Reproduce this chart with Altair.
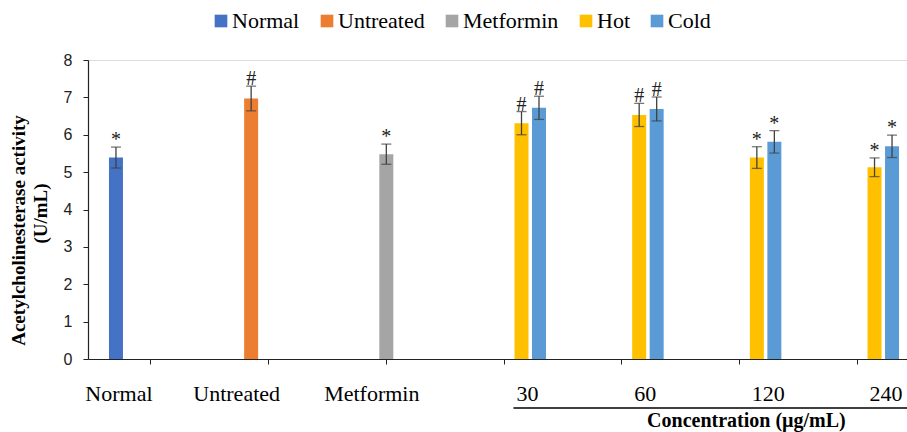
import altair as alt
import pandas as pd

# Categories on the x axis and the treatment series
groups = ["Normal", "Untreated", "Metformin", "30", "60", "120", "240"]
series = ["Normal", "Untreated", "Metformin", "Hot", "Cold"]
colors = ["#4472C4", "#ED7D31", "#A5A5A5", "#FFC000", "#5B9BD5"]

# Acetylcholinesterase activity (U/mL), mean and error per bar
bar_group = ["Normal", "Untreated", "Metformin", "30", "30", "60", "60",
             "120", "120", "240", "240"]
bar_series = ["Normal", "Untreated", "Metformin", "Hot", "Cold", "Hot", "Cold",
              "Hot", "Cold", "Hot", "Cold"]
activity = [5.39, 6.97, 5.48, 6.31, 6.72, 6.53, 6.69, 5.39, 5.81, 5.13, 5.69]
error = [0.28, 0.33, 0.27, 0.31, 0.31, 0.31, 0.32, 0.29, 0.30, 0.25, 0.30]
significance = ["*", "#", "*", "#", "#", "#", "#", "*", "*", "*", "*"]

# Category labels and the bar slot each one sits under
treat_labels = ["Normal", "Untreated", "Metformin"]
treat_anchor = ["Normal", "Normal", "Untreated"]
conc_labels = ["30", "60", "120", "240"]
conc_anchor = ["Hot", "Hot", "Hot", "Hot"]
conc_title = "Concentration (\u00b5g/mL)"
y_title = "Acetylcholinesterase activity"
y_unit = "(U/mL)"

df = pd.DataFrame({
    "group": bar_group,
    "series": bar_series,
    "activity": activity,
    "err": error,
    "sig": significance,
})
df["lo"] = df["activity"] - df["err"]
df["hi"] = df["activity"] + df["err"]

treat_df = pd.DataFrame({"group": treat_labels, "anchor": treat_anchor, "label": treat_labels})
conc_df = pd.DataFrame({"group": conc_labels, "anchor": conc_anchor, "label": conc_labels})
bracket_df = pd.DataFrame({"start": [conc_labels[0]], "end": [conc_labels[-1]]})
title_df = pd.DataFrame({"group": ["120"], "label": [conc_title]})

SERIF = "Liberation Serif"
SANS = "Liberation Sans"
ERR_COLOR = "#404040"

x_scale = alt.Scale(domain=groups, range=[0, 832], paddingInner=0, paddingOuter=0.035)
off_scale = alt.Scale(domain=series, paddingInner=0.2, paddingOuter=0.963)
y_scale = alt.Scale(domain=[0, 8], nice=False)


def gx(field="group", **kw):
    return alt.X(f"{field}:N", scale=x_scale, sort=groups, **kw)


def gof(field="series"):
    return alt.XOffset(f"{field}:N", scale=off_scale, sort=series)


def zero_y():
    return alt.YDatum(0, scale=y_scale, axis=None)


title_style = dict(
    titleFont=SERIF, titleFontSize=19, titleFontWeight="bold", titleColor="black",
    titleAngle=270, titleAlign="center", titleBaseline="bottom",
)

x_enc = gx(axis=alt.Axis(labels=False, title=None, tickSize=5, tickColor="#222",
                         domainColor="#222", domainWidth=1.2, ticks=True, grid=False))
y_enc = alt.Y(
    "activity:Q", scale=y_scale,
    axis=alt.Axis(
        orient="left", values=list(range(9)), tickCount=9, labelOverlap=False,
        grid=False, tickSize=5, tickColor="#222", domainColor="#222", domainWidth=1.2,
        labelFont=SANS, labelFontSize=16, labelColor="#222", labelPadding=11,
        title=y_title, titleX=-60, titleY=170, **title_style,
    ),
)

base = alt.Chart(df)

bars = base.mark_bar().encode(
    x=x_enc,
    xOffset=gof(),
    y=y_enc,
    color=alt.Color(
        "series:N",
        scale=alt.Scale(domain=series, range=colors),
        legend=alt.Legend(
            orient="none", legendX=122, legendY=-50, direction="horizontal",
            title=None, symbolType="square", symbolSize=160, symbolStrokeWidth=0,
            labelFont=SERIF, labelFontSize=22, labelColor="black",
            columnPadding=16, labelOffset=0,
        ),
    ),
)

whiskers = base.mark_rule(color=ERR_COLOR, strokeWidth=1.3).encode(
    x=gx(), xOffset=gof(),
    y=alt.Y("lo:Q", scale=y_scale, axis=None),
    y2="hi:Q",
)

caps_hi = base.mark_tick(color=ERR_COLOR, size=10, thickness=1.3).encode(
    x=gx(), xOffset=gof(),
    y=alt.Y("hi:Q", scale=y_scale, axis=None),
)
caps_lo = base.mark_tick(color=ERR_COLOR, size=10, thickness=1.3).encode(
    x=gx(), xOffset=gof(),
    y=alt.Y("lo:Q", scale=y_scale, axis=None),
)

# significance marks above the error bars; this layer also carries the unit line
# of the y title on a bare second axis
marks = base.mark_text(font=SERIF, fontSize=20, baseline="alphabetic", dy=-1,
                       color="#222").encode(
    x=gx(), xOffset=gof(),
    y=alt.Y(
        "hi:Q", scale=y_scale,
        axis=alt.Axis(orient="left", labels=False, ticks=False, domain=False,
                      grid=False, title=y_unit, titleX=-38, titleY=153, **title_style),
    ),
    text="sig:N",
)

treat_text = alt.Chart(treat_df).mark_text(
    font=SERIF, fontSize=22, color="black", baseline="alphabetic", dy=42, dx=3
).encode(
    x=gx(), xOffset=gof("anchor"), y=zero_y(), text="label:N",
)

conc_text = alt.Chart(conc_df).mark_text(
    font=SERIF, fontSize=22, color="black", baseline="alphabetic", align="left",
    dy=42, dx=-5
).encode(
    x=gx(), xOffset=gof("anchor"), y=zero_y(), text="label:N",
)

bracket = alt.Chart(bracket_df).mark_rule(color="black", strokeWidth=1.3).encode(
    x=gx("start", bandPosition=0.58),
    x2=alt.X2("end:N", bandPosition=1),
    y=zero_y(),
    yOffset=alt.value(49),
)

conc_label = alt.Chart(title_df).mark_text(
    font=SERIF, fontSize=20, fontWeight="bold", color="black",
    baseline="alphabetic", dy=68
).encode(
    x=gx(bandPosition=0.56), y=zero_y(), text="label:N",
)

chart = alt.layer(
    bars, whiskers, caps_hi, caps_lo, marks, treat_text, conc_text, bracket, conc_label
).resolve_axis(y="independent").properties(
    width=819, height=299,
    autosize=alt.AutoSizeParams(type="none"),
    padding={"left": 88, "top": 60, "right": 0, "bottom": 73},
).configure_view(stroke=None).configure(background="white")

chart.save("out.html", embed_options={"renderer": "svg", "actions": False})
